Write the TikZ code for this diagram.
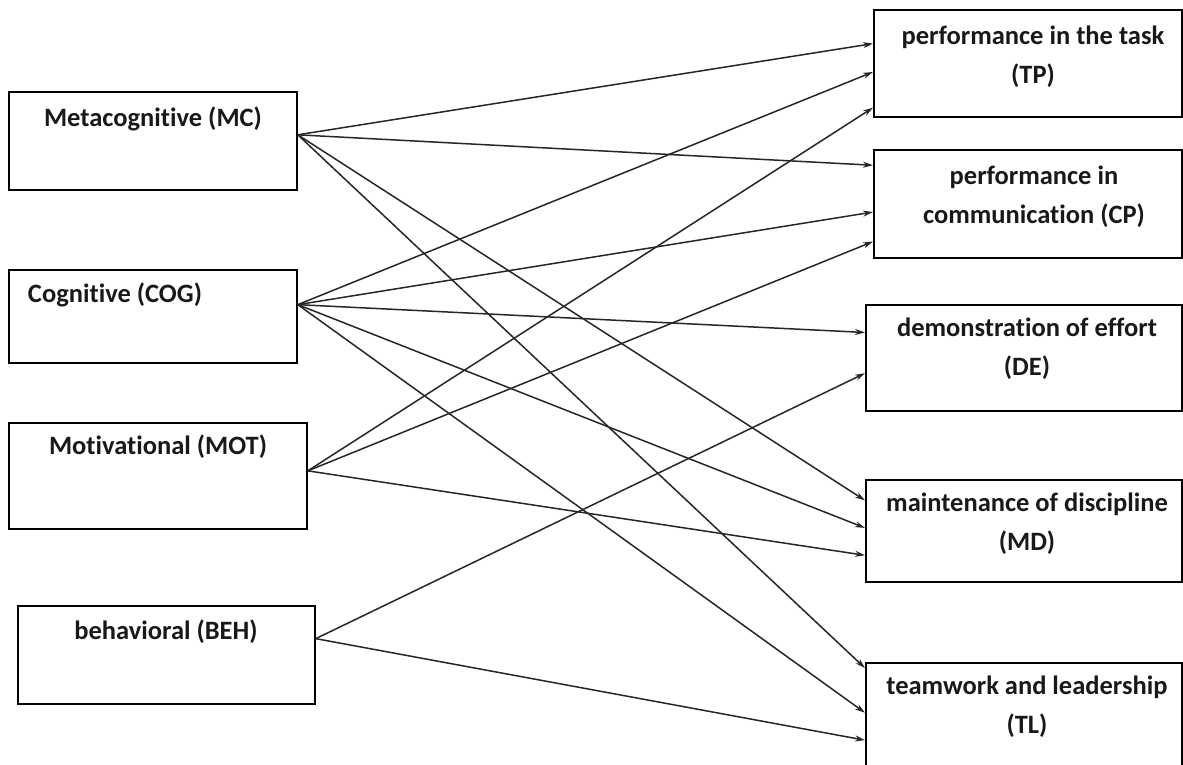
\documentclass[tikz,border=0pt]{standalone}
\usepackage{fontspec}
\setmainfont{Carlito}[Ligatures={NoCommon,NoRare}]
\usetikzlibrary{calc,arrows.meta}
\begin{document}
\begin{tikzpicture}[x=1pt,y=-1pt,
  box/.style={draw=black,line width=1.8pt,rectangle,anchor=north west,inner sep=0pt},
  lbl/.style={font=\fontsize{26.5}{39}\selectfont\bfseries,text=black!90,align=center,inner sep=0pt},
  conn/.style={draw=black!85,line width=1.5pt,-{Stealth[length=10pt,width=6pt]}}]
\useasboundingbox (0,0) rectangle (1183,764);
% left boxes
\node[box,minimum width=288pt,minimum height=98pt] (mc) at (8,91) {};
\node[box,minimum width=288pt,minimum height=93pt] (cog) at (8,269) {};
\node[box,minimum width=298pt,minimum height=106pt] (mot) at (8,422) {};
\node[box,minimum width=297pt,minimum height=98pt] (beh) at (17,605) {};
% right boxes
\node[box,minimum width=308pt,minimum height=107pt] (tp) at (873,9) {};
\node[box,minimum width=308pt,minimum height=108pt] (cp) at (873,149) {};
\node[box,minimum width=316pt,minimum height=106pt] (de) at (865,304) {};
\node[box,minimum width=316pt,minimum height=102pt] (md) at (865,479) {};
\node[box,minimum width=316pt,minimum height=113pt] (tl) at (865,662) {};
% labels
\node[lbl] (tmc) at (153,119) {Metacognitive (MC)};
\node[lbl] (tcog) at (115,295) {Cognitive (COG)};
\node[lbl] (tmot) at (158,447) {Motivational (MOT)};
\node[lbl] (tbeh) at (166,632) {behavioral (BEH)};
\node[lbl] (ttp) at (1033,57) {performance in the task\\(TP)};
\node[lbl] (tcp) at (1034,196.5) {performance in\\communication (CP)};
\node[lbl] (tde) at (1027,349) {demonstration of effort\\(DE)};
\node[lbl] (tmd) at (1027,524) {maintenance of discipline\\(MD)};
\node[lbl] (ttl) at (1027,706.5) {teamwork and leadership\\(TL)};
% connectors
\coordinate (omc) at ($(mc.north east)!0.439!(mc.south east)$);
\coordinate (ocog) at ($(cog.north east)!0.376!(cog.south east)$);
\coordinate (omot) at ($(mot.north east)!0.453!(mot.south east)$);
\coordinate (obeh) at ($(beh.north east)!0.337!(beh.south east)$);
\draw[conn] (omc) -- ($(tp.north west)!0.318!(tp.south west)$);
\draw[conn] (omc) -- ($(cp.north west)!0.148!(cp.south west)$);
\draw[conn] (omc) -- ($(md.north west)!0.206!(md.south west)$);
\draw[conn] (omc) -- ($(tl.north west)!0.053!(tl.south west)$);
\draw[conn] (ocog) -- ($(tp.north west)!0.579!(tp.south west)$);
\draw[conn] (ocog) -- ($(cp.north west)!0.574!(cp.south west)$);
\draw[conn] (ocog) -- ($(de.north west)!0.264!(de.south west)$);
\draw[conn] (ocog) -- ($(md.north west)!0.471!(md.south west)$);
\draw[conn] (ocog) -- ($(tl.north west)!0.442!(tl.south west)$);
\draw[conn] (omot) -- ($(tp.north west)!0.907!(tp.south west)$);
\draw[conn] (omot) -- ($(cp.north west)!0.843!(cp.south west)$);
\draw[conn] (omot) -- ($(md.north west)!0.735!(md.south west)$);
\draw[conn] (obeh) -- ($(de.north west)!0.642!(de.south west)$);
\draw[conn] (obeh) -- ($(tl.north west)!0.681!(tl.south west)$);
\end{tikzpicture}
\end{document}
